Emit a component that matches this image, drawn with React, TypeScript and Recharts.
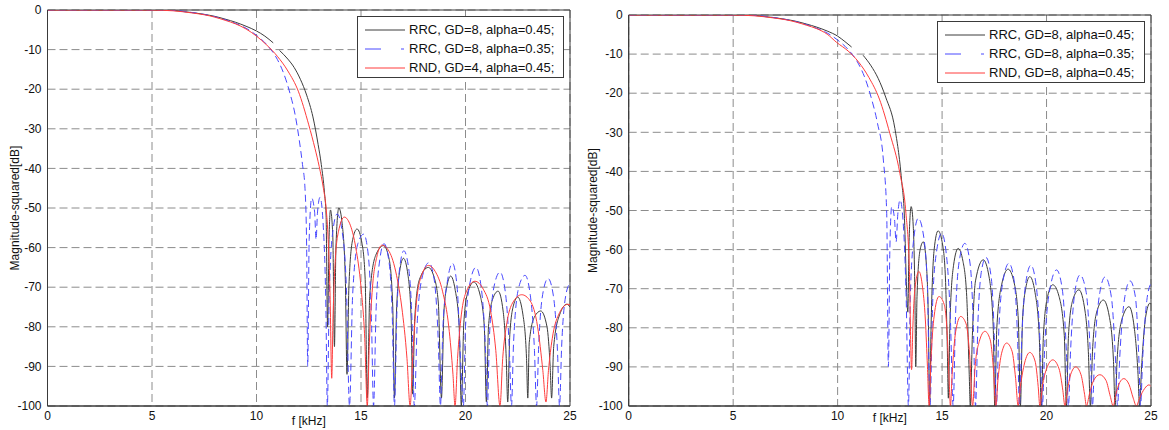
import React from 'react';
import { LineChart, Line, XAxis, YAxis, CartesianGrid, ReferenceArea, Label } from 'recharts';

const FONT = '"Liberation Sans", Arial, Helvetica, sans-serif';

const xTicks = [0, 5, 10, 15, 20, 25];
const yTicks = [0, -10, -20, -30, -40, -50, -60, -70, -80, -90, -100];
const xLabel = 'f [kHz]';
const yLabel = 'Magnitude-squared[dB]';

const legendLeft = ['RRC, GD=8, alpha=0.45;', 'RRC, GD=8, alpha=0.35;', 'RND, GD=4, alpha=0.45;'];
const legendRight = ['RRC, GD=8, alpha=0.45;', 'RRC, GD=8, alpha=0.35;', 'RND, GD=8, alpha=0.45;'];

// [frequency kHz, dB]
const blackLeft = [
  [0, 0], [3, 0], [5, 0], [6, -0.1], [6.5, -0.4], [7, -0.7], [7.5, -1.1], [8, -1.6], [8.5, -2.3], [9, -3.1], [9.5, -4.1], [10, -5.3], [10.4, -6.6], [10.8, -8.3], [10.95, null],
  [11.1, -10.2], [11.5, -12.4], [11.8, -14.5], [12.1, -17.5], [12.4, -21.5], [12.7, -27], [12.95, -34], [13.1, -39], [13.25, -46], [13.33, -52], [13.4, -80], [13.47, -58], [13.54, -50.5],
  [13.65, -57], [13.73, -85], [13.8, -60], [13.94, -50], [14.1, -54], [14.25, -68], [14.33, -92], [14.42, -70], [14.6, -58], [14.81, -55.3], [15.05, -59], [15.2, -68], [15.3, -98],
  [15.42, -72], [15.7, -62], [16.08, -59.5], [16.35, -63], [16.52, -75], [16.6, -98], [16.7, -76], [16.85, -66], [17.03, -62.7], [17.25, -67], [17.4, -78], [17.47, -97], [17.57, -78],
  [17.8, -68], [18.22, -65], [18.5, -67.5], [18.7, -74], [18.85, -98], [18.97, -76], [19.12, -69.5], [19.29, -67.2], [19.5, -70.5], [19.7, -80], [19.8, -100], [19.92, -79], [20.1, -71.5],
  [20.4, -68.7], [20.7, -72], [20.9, -80], [21.0, -99], [21.1, -80], [21.3, -73], [21.56, -71], [21.8, -76], [21.95, -88], [22.02, -99], [22.12, -82], [22.3, -74.5], [22.5, -72.5],
  [22.75, -77], [22.92, -88], [22.98, -98], [23.05, -84], [23.3, -77.5], [23.6, -76], [23.9, -80], [24.05, -90], [24.12, -98], [24.22, -85], [24.5, -77], [24.85, -74.3], [25, -75],
];

const blueLeft = [
  [0, 0], [5, 0], [6, -0.1], [7, -0.7], [8, -1.7], [9, -3.4], [9.5, -4.6], [10, -6.4], [10.5, -8.8], [11, -12.5], [11.3, -16], [11.6, -21], [11.85, -26.5], [12.05, -33], [12.2, -39],
  [12.32, -45], [12.4, -60], [12.45, -90], [12.52, -58], [12.64, -47.5], [12.78, -51], [12.85, -58], [12.92, -51], [13.04, -47.3], [13.2, -55], [13.32, -75], [13.39, -100], [13.48, -72],
  [13.65, -56], [13.86, -51.5], [14.1, -56], [14.3, -70], [14.45, -100], [14.6, -72], [14.85, -59], [15.13, -56.6], [15.35, -62], [15.5, -78], [15.6, -100], [15.72, -76], [15.9, -63],
  [16.1, -59], [16.35, -64], [16.5, -78], [16.6, -100], [16.72, -76], [16.88, -64], [17.05, -60.8], [17.3, -66], [17.45, -80], [17.55, -100], [17.7, -78], [17.95, -67], [18.25, -63.8],
  [18.5, -68], [18.7, -84], [18.8, -100], [18.92, -80], [19.15, -68], [19.38, -64], [19.6, -70], [19.78, -90], [19.9, -100], [20.0, -80], [20.25, -68], [20.5, -65], [20.75, -70],
  [20.95, -85], [21.05, -100], [21.15, -82], [21.4, -69], [21.65, -66.2], [21.9, -71], [22.1, -86], [22.2, -100], [22.3, -84], [22.55, -70], [22.85, -67], [23.1, -72], [23.3, -86],
  [23.4, -100], [23.5, -85], [23.72, -71], [23.95, -67.8], [24.2, -72], [24.4, -86], [24.5, -100], [24.6, -85], [24.8, -72], [25, -69],
];

const redLeft = [
  [0, 0], [2, 0], [4, 0], [5, -0.02], [6, -0.2], [6.5, -0.45], [7, -0.8], [7.5, -1.2], [8, -1.8], [8.5, -2.6], [9, -3.5], [9.5, -4.8], [10, -6.6], [10.5, -8.9], [11, -11.7], [11.5, -15.4],
  [12, -20.5], [12.5, -29], [12.8, -35], [13, -39.5], [13.2, -45], [13.33, -50], [13.43, -58], [13.52, -72], [13.6, -93], [13.66, -78], [13.76, -64], [13.92, -56], [14.2, -52.3],
  [14.5, -54.5], [14.75, -60], [15.0, -70], [15.18, -83], [15.3, -100], [15.4, -84], [15.55, -70], [15.75, -62.5], [16.0, -59.4], [16.35, -61], [16.7, -67], [16.95, -75], [17.2, -88],
  [17.35, -100], [17.48, -87], [17.65, -74], [17.9, -67], [18.22, -64.5], [18.55, -66], [18.9, -71], [19.2, -80], [19.4, -92], [19.5, -100], [19.62, -88], [19.8, -77], [20.05, -71],
  [20.45, -68.5], [20.85, -70.5], [21.2, -76], [21.45, -86], [21.65, -100], [21.78, -88], [21.98, -79], [22.25, -74], [22.69, -71.9], [23.1, -73.5], [23.45, -80], [23.7, -91],
  [23.85, -99], [23.97, -91], [24.15, -83], [24.45, -77], [24.9, -74.3], [25, -74.5],
];

const blackRight = [
  [0, 0], [3, 0], [5, 0], [6, -0.1], [6.5, -0.4], [7, -0.7], [7.5, -1.1], [8, -1.6], [8.5, -2.3], [9, -3.1], [9.5, -4.1], [10, -5.4], [10.35, -6.8], [10.67, -8.2], [10.9, null],
  [11.22, -10.3], [11.6, -13], [11.94, -16.2], [12.3, -21], [12.74, -29], [13.06, -42.2], [13.2, -52], [13.3, -70], [13.36, -76], [13.42, -58], [13.52, -49], [13.62, -54], [13.7, -72],
  [13.74, -90], [13.8, -72], [13.95, -60], [14.1, -58], [14.25, -64], [14.35, -80], [14.4, -100], [14.48, -78], [14.62, -60], [14.81, -55.2], [15.0, -58], [15.15, -66], [15.25, -85],
  [15.3, -98], [15.38, -78], [15.55, -64], [15.77, -59.7], [16.0, -63], [16.18, -72], [16.3, -92], [16.35, -100], [16.45, -82], [16.6, -68], [16.97, -62.6], [17.25, -67], [17.45, -80],
  [17.52, -100], [17.62, -80], [17.85, -69], [18.16, -65], [18.45, -68.5], [18.65, -78], [18.75, -100], [18.85, -78], [19.0, -70], [19.2, -66.9], [19.45, -71], [19.65, -82], [19.75, -100],
  [19.85, -82], [20.05, -72], [20.3, -69], [20.6, -72], [20.85, -82], [20.95, -100], [21.05, -82], [21.25, -73], [21.55, -70.3], [21.85, -76], [22.0, -86], [22.1, -100], [22.2, -86],
  [22.4, -76], [22.72, -72.9], [23.0, -77], [23.2, -88], [23.28, -100], [23.38, -88], [23.6, -78], [23.95, -74.6], [24.2, -80], [24.38, -92], [24.45, -100], [24.55, -90], [24.75, -77],
  [24.95, -73.7], [25, -74],
];

const blueRight = [
  [0, 0], [5, 0], [6, -0.1], [7, -0.7], [8, -1.7], [9, -3.4], [9.5, -4.6], [10, -6.4], [10.5, -8.8], [11, -12.5], [11.3, -16], [11.6, -21], [11.9, -27.5], [12.19, -37.1], [12.35, -50.7],
  [12.43, -89.9], [12.5, -60], [12.59, -49], [12.72, -52], [12.8, -58], [12.88, -51], [12.99, -47.3], [13.15, -54], [13.28, -72], [13.39, -100], [13.48, -72], [13.65, -57], [13.86, -52],
  [14.1, -56], [14.3, -70], [14.42, -100], [14.56, -72], [14.75, -60], [14.98, -55.8], [15.2, -61], [15.4, -78], [15.53, -100], [15.65, -76], [15.85, -62], [16.09, -58.4], [16.35, -64],
  [16.5, -80], [16.6, -100], [16.72, -78], [16.9, -65], [17.1, -62], [17.35, -67], [17.5, -82], [17.6, -100], [17.72, -80], [17.95, -67], [18.2, -63.5], [18.45, -68], [18.62, -84],
  [18.7, -100], [18.82, -82], [19.02, -68], [19.25, -64], [19.5, -69], [19.7, -85], [19.8, -100], [19.92, -84], [20.2, -69], [20.48, -65.2], [20.75, -70], [20.95, -86], [21.05, -100],
  [21.15, -86], [21.38, -70], [21.6, -66.5], [21.9, -71], [22.1, -87], [22.2, -100], [22.3, -87], [22.55, -71], [22.8, -67], [23.1, -72], [23.3, -88], [23.4, -100], [23.5, -88],
  [23.75, -72], [24.0, -68], [24.25, -72], [24.42, -88], [24.5, -100], [24.6, -88], [24.8, -73], [25, -68.6],
];

const redRight = [
  [0, 0], [2, 0], [4, 0], [5, -0.02], [6, -0.2], [6.5, -0.45], [7, -0.8], [7.5, -1.2], [8, -1.8], [8.5, -2.6], [9, -3.5], [9.5, -4.9], [9.95, -7.0], [10.5, -9.2], [11, -12], [11.5, -16],
  [12, -21.5], [12.5, -30.3], [12.98, -40.5], [13.27, -50.7], [13.43, -64.3], [13.54, -90.7], [13.6, -80], [13.7, -70], [13.89, -65.6], [14.05, -69], [14.2, -78], [14.3, -90], [14.38, -100],
  [14.47, -88], [14.62, -77], [14.85, -72], [15.1, -74], [15.25, -82], [15.35, -95], [15.4, -100], [15.48, -92], [15.65, -81], [15.89, -77.1], [16.15, -79], [16.32, -87], [16.46, -100],
  [16.58, -90], [16.78, -83.5], [17.05, -80.9], [17.3, -83], [17.45, -90], [17.57, -100], [17.68, -93], [17.85, -86.5], [18.09, -83.9], [18.35, -86], [18.52, -93], [18.64, -100],
  [18.75, -95], [18.95, -89], [19.2, -86.3], [19.45, -88.5], [19.6, -95], [19.68, -100], [19.8, -95], [20.0, -90.5], [20.3, -88.2], [20.6, -90.5], [20.78, -96], [20.88, -100], [21.0, -96],
  [21.15, -92], [21.4, -90], [21.65, -92], [21.82, -97], [21.91, -100], [22.05, -97], [22.25, -93.5], [22.55, -92], [22.85, -93.5], [23.05, -97.5], [23.19, -100], [23.32, -97], [23.5, -94],
  [23.7, -93], [23.95, -94.5], [24.15, -98], [24.3, -100], [24.45, -98], [24.7, -95.5], [24.9, -94.6], [25, -95],
];

const toRows = (a: (number | null)[][]) => a.map(([f, db]) => ({ f, db }));

const BLACK = '#3c3c3c';
const BLUE = '#4848ff';
const RED = '#ff3c3c';
const FRAME = '#3a3a3a';

type PanelProps = {
  left: number;
  width: number;
  plotLeft: number;
  plotTop: number;
  plotRight: number;
  black: (number | null)[][];
  blue: (number | null)[][];
  red: (number | null)[][];
  labels: string[];
  legendBox: { left: number; top: number; width: number; height: number };
  yLabelX: number;
  xLabelBaseline: number;
};

function LegendSample({ color, dash }: { color: string; dash?: string }) {
  return (
    <svg width={42} height={6} style={{ display: 'block' }}>
      <line x1={0} y1={3} x2={40} y2={3} stroke={color} strokeWidth={1} strokeDasharray={dash} />
    </svg>
  );
}

function Panel(p: PanelProps) {
  const height = 430;
  const colors = [BLACK, BLUE, RED];
  const dashes = [undefined, '16 20 3', undefined];
  const rowsY = [12.5, 31.5, 50.5];
  return (
    <div style={{ position: 'absolute', left: p.left, top: 0, width: p.width, height }}>
      <LineChart
        width={p.width}
        height={height}
        margin={{ top: p.plotTop, right: p.width - p.plotRight, bottom: 4, left: 0 }}
      >
        <CartesianGrid stroke="#8c8c8c" strokeDasharray="8 4" />
        <XAxis
          type="number"
          dataKey="f"
          domain={[0, 25]}
          ticks={xTicks}
          allowDataOverflow
          height={20}
          tickSize={3}
          tickLine={false}
          axisLine={{ stroke: FRAME }}
          tick={{ fill: '#111', fontSize: 12, fontFamily: FONT }}
        >
          <Label
            content={(props: any) => {
              const vb = props.viewBox || {};
              const cx = vb.x + vb.width / 2;
              return (
                <text x={cx} y={p.xLabelBaseline} textAnchor="middle" fill="#111" fontSize={12} fontFamily={FONT}>
                  {xLabel}
                </text>
              );
            }}
          />
        </XAxis>
        <YAxis
          type="number"
          domain={[-100, 0]}
          ticks={yTicks}
          allowDataOverflow
          width={p.plotLeft}
          tickSize={4}
          tickLine={false}
          axisLine={{ stroke: FRAME }}
          tick={{ fill: '#111', fontSize: 12, fontFamily: FONT }}
        >
          <Label
            content={(props: any) => {
              const vb = props.viewBox || {};
              const cy = vb.y + vb.height / 2;
              return (
                <text
                  x={p.yLabelX}
                  y={cy}
                  transform={`rotate(-90, ${p.yLabelX}, ${cy})`}
                  textAnchor="middle"
                  dominantBaseline="central"
                  fill="#111"
                  fontSize={12}
                  fontFamily={FONT}
                >
                  {yLabel}
                </text>
              );
            }}
          />
        </YAxis>
        <ReferenceArea x1={0} x2={25} y1={-100} y2={0} fill="none" stroke={FRAME} strokeOpacity={1} />
        <Line data={toRows(p.black)} dataKey="db" type="monotone" stroke={BLACK} strokeWidth={1} dot={false} isAnimationActive={false} connectNulls={false} />
        <Line data={toRows(p.blue)} dataKey="db" type="monotone" stroke={BLUE} strokeWidth={1} strokeDasharray="7 4" dot={false} isAnimationActive={false} />
        <Line data={toRows(p.red)} dataKey="db" type="monotone" stroke={RED} strokeWidth={1} dot={false} isAnimationActive={false} />
      </LineChart>
      <div
        style={{
          position: 'absolute',
          left: p.legendBox.left,
          top: p.legendBox.top,
          width: p.legendBox.width,
          height: p.legendBox.height,
          boxSizing: 'border-box',
          border: `1px solid ${FRAME}`,
          background: '#fff',
          fontFamily: FONT,
          fontSize: 13,
          color: '#111',
        }}
      >
        {p.labels.map((lab, i) => (
          <div key={lab + i} style={{ position: 'absolute', left: 0, top: rowsY[i] - 9, height: 18, width: '100%' }}>
            <div style={{ position: 'absolute', left: 7, top: 6 }}>
              <LegendSample color={colors[i]} dash={dashes[i]} />
            </div>
            <div style={{ position: 'absolute', left: 51, top: 0, lineHeight: '18px', whiteSpace: 'nowrap' }}>{lab}</div>
          </div>
        ))}
      </div>
    </div>
  );
}

export default function App() {
  return (
    <div style={{ position: 'absolute', left: 0, top: 0, width: 1169, height: 430, background: '#fff', overflow: 'hidden' }}>
      <Panel
        left={0}
        width={585}
        plotLeft={47.5}
        plotTop={10}
        plotRight={570}
        black={blackLeft}
        blue={blueLeft}
        red={redLeft}
        labels={legendLeft}
        legendBox={{ left: 357, top: 16, width: 207, height: 62 }}
        yLabelX={15}
        xLabelBaseline={425}
      />
      <Panel
        left={585}
        width={584}
        plotLeft={43.7}
        plotTop={15}
        plotRight={566}
        black={blackRight}
        blue={blueRight}
        red={redRight}
        labels={legendRight}
        legendBox={{ left: 352, top: 21, width: 208, height: 62 }}
        yLabelX={8}
        xLabelBaseline={422}
      />
    </div>
  );
}
